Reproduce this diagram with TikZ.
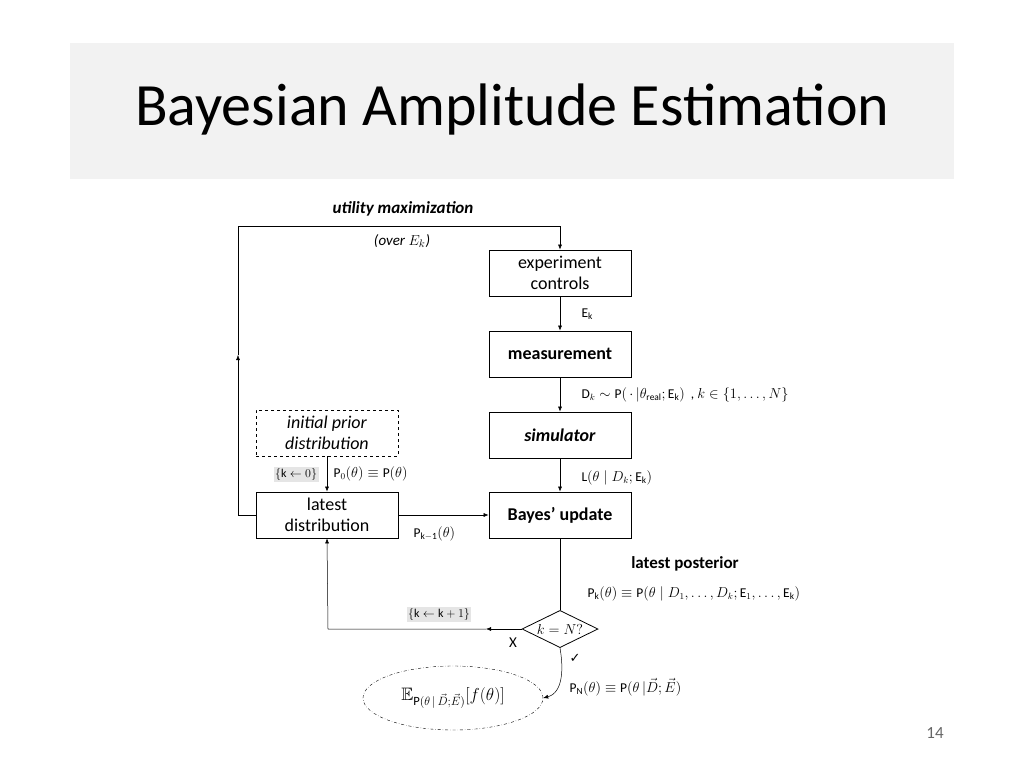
\documentclass[tikz,border=0pt]{standalone}
\usepackage{amssymb}
\usepackage{fontspec}
\setmainfont{Carlito}
\newfontfamily\symfont{DejaVu Sans}
\usetikzlibrary{shapes.geometric,arrows.meta}

\tikzset{
  stepbox/.style = {draw, thick, minimum width = 142pt, minimum height = 46pt, align = center, font = \fontsize{18}{21}\selectfont},
  flow/.style = {draw, >={Latex[length=5pt,width=4pt]}, ->, line width = 0.5pt},
  lbl/.style = {font = \fontsize{13.5}{16}\selectfont, anchor = west},
  graybg/.style = {fill = black!10, inner sep = 1.5pt}
}

\begin{document}
\begin{tikzpicture}[x = 1pt, y = -1pt]
    \useasboundingbox (0, 0) rectangle (1024, 768);
    \fill[black!5] (70, 43) rectangle (954, 179);
    \node[anchor = west, inner sep = 0pt, font = \fontsize{60}{64}\selectfont] (title) at (135, 110) {Bayesian Amplitude Estimation};
    \node[font = \fontsize{17}{19}\selectfont, black!60] (page) at (935, 733) {14};

    % main column
    \node[stepbox] (exp) at (560, 273) {experiment\\controls};
    \node[stepbox] (meas) at (560, 354) {\textbf{measurement}};
    \node[stepbox] (sim) at (560, 435) {\textbf{\textit{simulator}}};
    \node[stepbox] (bayes) at (560, 515) {\textbf{Bayes’ update}};
    \node[diamond, draw, thick, aspect = 1.7, inner sep = 0pt, minimum width = 76pt, font = \fontsize{14}{16}\selectfont] (check) at (560, 629) {$k = N?$};

    % left column
    \node[stepbox, dashed] (init) at (327, 433) {\textit{initial prior}\\\textit{distribution}};
    \node[stepbox] (latest) at (327, 515) {latest\\distribution};
    \node[ellipse, draw, dash dot, minimum width = 180pt, minimum height = 64pt, inner sep = 0pt, font = \fontsize{18}{20}\selectfont] (result) at (453, 698)
        {$\mathbb{E}_{\mathrm{P}(\theta\,|\,\vec{D};\vec{E})}[f(\theta)]$};

    \coordinate (loopA) at (238, 515);
    \coordinate (loopB) at (238, 226);
    \coordinate (loopC) at (560, 226);
    \coordinate (loopMid) at (238, 355);
    \coordinate (backA) at (328, 629);
    \coordinate (backMid) at (486, 629);

    \draw[flow] (exp) -- (meas);
    \draw[flow] (meas) -- (sim);
    \draw[flow] (sim) -- (bayes);
    \draw[thick] (bayes) -- (check);
    \draw[flow] (init) -- (latest);
    \draw[flow] (latest) -- (bayes);
    \draw[flow] (latest.west) -- (loopA) -- (loopMid);
    \draw[flow] (loopMid) -- (loopB) -- (loopC) -- (exp.north);
    \draw[flow] (check.west) -- (backMid);
    \draw[flow] (backMid) -- (backA) -- (latest.south);
    \draw[flow] (check.south) to[out = -80, in = 15] (result.east);

    % labels
    \node[font = \fontsize{17}{20}\selectfont\bfseries\itshape] (util) at (403, 209) {utility maximization};
    \node[font = \fontsize{15}{18}\selectfont\itshape] (over) at (402, 241) {(over $E_k$)};
    \node[lbl] (lE) at (578, 314) {$\mathrm{E_k}$};
    \node[lbl] (lD) at (578, 395) {$\mathrm{D}_k \sim \mathrm{P}(\,\cdot\,|\theta_{\mathrm{real}};\mathrm{E_k})$ \ , $k \in \{1,\ldots,N\}$};
    \node[lbl] (lL) at (578, 478) {$\mathrm{L}(\theta \mid D_k;\mathrm{E_k})$};
    \node[lbl] (lP0) at (330, 474) {$\mathrm{P}_0(\theta) \equiv \mathrm{P}(\theta)$};
    \node[lbl, graybg, anchor = center, font = \fontsize{12}{14}\selectfont] (k0) at (296, 474) {$\{\mathrm{k} \leftarrow 0\}$};
    \node[lbl] (lPk1) at (410, 534) {$\mathrm{P_{k-1}}(\theta)$};
    \node[font = \fontsize{17}{20}\selectfont\bfseries] (post) at (685, 564) {latest posterior};
    \node[lbl] (lPk) at (584, 594) {$\mathrm{P_k}(\theta) \equiv \mathrm{P}(\theta \mid D_1,\ldots,D_k;\mathrm{E}_1,\ldots,\mathrm{E_k})$};
    \node[lbl, graybg, anchor = center, font = \fontsize{12}{14}\selectfont] (kk) at (439, 614) {$\{\mathrm{k} \leftarrow \mathrm{k}+1\}$};
    \node[font = \fontsize{15}{18}\selectfont] (no) at (513, 643) {X};
    \node[font = \fontsize{13}{16}\selectfont\symfont] (yes) at (575, 658) {✓};
    \node[lbl] (lPN) at (566, 687) {$\mathrm{P_N}(\theta) \equiv \mathrm{P}\bigl(\theta \,\big|\vec{D};\vec{E}\bigr)$};
\end{tikzpicture}
\end{document}
